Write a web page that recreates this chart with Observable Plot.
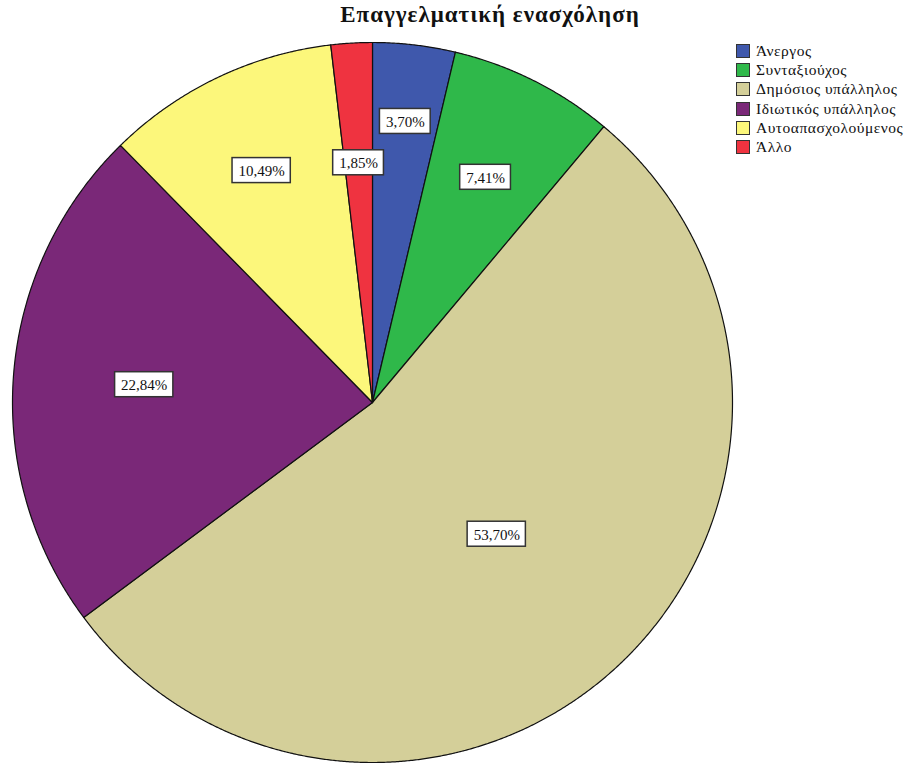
<!DOCTYPE html>
<html>
<head>
<meta charset="utf-8">
<script src="https://cdn.jsdelivr.net/npm/d3@7"></script>
<script src="https://cdn.jsdelivr.net/npm/@observablehq/plot@0.6"></script>
<style>
  html, body { margin: 0; padding: 0; background: #fff; }
  #wrap { position: relative; width: 905px; height: 763px; overflow: hidden; }
  #title { position: absolute; left: 0; width: 980px; top: 2px; text-align: center;
    font-family: "Liberation Serif", serif; font-weight: bold; font-size: 23px; letter-spacing: 1px; color: #111; }
  #legend { position: absolute; left: 736px; top: 41px; font-family: "Liberation Serif", serif;
    font-size: 15.5px; letter-spacing: 0.5px; color: #111; }
  .row { display: flex; align-items: center; height: 19.3px; white-space: nowrap; }
  .sw { width: 14px; height: 14px; border: 1.5px solid #333; box-sizing: border-box; margin-right: 6px; flex: none; }
</style>
</head>
<body>
<div id="wrap">
  <div id="chart"></div>
  <div id="title"></div>
  <div id="legend"></div>
</div>
<script>
// ---- data ----
const titleText = "Επαγγελματική ενασχόληση";
const categories = ["Άνεργος", "Συνταξιούχος", "Δημόσιος υπάλληλος", "Ιδιωτικός υπάλληλος", "Αυτοαπασχολούμενος", "Άλλο"];
const percents = [3.70, 7.41, 53.70, 22.84, 10.49, 1.85];

// ---- style ----
const colors = ["#3f58ac", "#2fb84a", "#d4cf99", "#7a2878", "#fcf77b", "#ef3340"];
const labelRadius = [0.786, 0.70, 0.503, 0.636, 0.714, 0.667];

const W = 905, H = 763, CX = 372, CY = 402, R = 360;
const fam = '"Liberation Serif", serif';
const font = '15px ' + fam;

// angles (clockwise from top)
const total = d3.sum(percents);
let acc = 0;
const slices = percents.map((p, i) => {
  const a0 = acc / total * 2 * Math.PI;
  acc += p;
  const a1 = acc / total * 2 * Math.PI;
  return {cat: categories[i], p, a0, a1, i};
});

// polygon points for each slice (unit circle, y up)
const pts = [];
for (const s of slices) {
  pts.push({k: s.i, x: 0, y: 0});
  const n = Math.max(2, Math.ceil((s.a1 - s.a0) / (Math.PI / 720)));
  for (let j = 0; j <= n; j++) {
    const a = s.a0 + (s.a1 - s.a0) * j / n;
    pts.push({k: s.i, x: Math.sin(a), y: Math.cos(a)});
  }
  pts.push({k: s.i, x: 0, y: 0});
}

// labels
const ctx = document.createElement("canvas").getContext("2d");
ctx.font = font;
const fmt = p => p.toFixed(2).replace(".", ",") + "%";
const labels = slices.map(s => {
  const m = (s.a0 + s.a1) / 2, r = labelRadius[s.i];
  const t = fmt(s.p);
  const w = ctx.measureText(t).width + 12, h = 25;
  const x = r * Math.sin(m), y = r * Math.cos(m);
  return {t, x, y, x1: x - w / 2 / R, x2: x + w / 2 / R, y1: y - h / 2 / R, y2: y + h / 2 / R};
});

const marks = slices.map(s =>
  Plot.line(pts.filter(d => d.k === s.i), {x: "x", y: "y", fill: colors[s.i], stroke: "#111", strokeWidth: 1.2, strokeLinejoin: "round", curve: "linear"})
);
marks.push(Plot.rect(labels, {x1: "x1", x2: "x2", y1: "y1", y2: "y2", fill: "white", stroke: "#333", strokeWidth: 1.5}));
marks.push(Plot.text(labels, {x: "x", y: "y", text: "t", fontSize: 15, fontFamily: fam, fill: "#111", dy: 0.5}));

const chart = Plot.plot({
  width: W, height: H,
  marginTop: 0, marginBottom: 0, marginLeft: 0, marginRight: 0,
  x: {domain: [-CX / R, (W - CX) / R], axis: null},
  y: {domain: [-(H - CY) / R, CY / R], axis: null},
  style: {background: "white", overflow: "visible", fontFamily: fam},
  marks
});
document.getElementById("chart").appendChild(chart);

document.getElementById("title").textContent = titleText;
const leg = document.getElementById("legend");
categories.forEach((c, i) => {
  const row = document.createElement("div");
  row.className = "row";
  const sw = document.createElement("div");
  sw.className = "sw";
  sw.style.background = colors[i];
  const tx = document.createElement("span");
  tx.textContent = c;
  row.appendChild(sw); row.appendChild(tx);
  leg.appendChild(row);
});
</script>
</body>
</html>
